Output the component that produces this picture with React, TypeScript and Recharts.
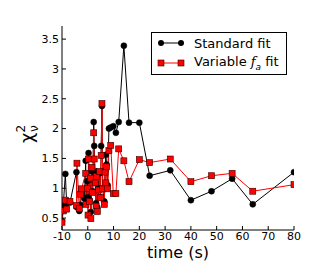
import React from "react";
import { ComposedChart, Line, XAxis, YAxis, Legend } from "recharts";

// reduced chi-square vs time, two fit variants
const stdTime = [
  -10, -9.5, -8.7, -8.2, -6.9, -4.4, -4.2, -3.3, -2.8, -2.4, -1.3, -0.8, -0.7, -0.2, 0.1, 0.3,
  0.7, 1.0, 1.2, 1.6, 1.9, 2.3, 2.5, 2.9, 3.2, 3.4, 3.7, 4.2, 4.6, 4.9, 5.2, 5.5, 5.8, 6.4,
  6.7, 7.0, 7.3, 7.7, 8.2, 8.9, 9.9, 10.9, 12, 14, 16, 20, 24, 32, 40, 48, 56, 64, 80,
];
const stdChi = [
  0.45, 0.72, 1.24, 0.75, 0.76, 1.27, 0.68, 0.62, 0.72, 0.98, 0.83, 1.46, 0.75, 1.12, 0.85, 1.59,
  0.8, 1.15, 0.6, 1.28, 0.95, 2.11, 1.71, 1.1, 0.75, 1.28, 0.68, 1.0, 1.25, 0.85, 1.71, 2.38, 1.0, 0.78,
  1.3, 1.56, 1.4, 1.05, 2.0, 2.02, 2.04, 1.93, 2.11, 3.39, 2.1, 2.1, 1.21, 1.3, 0.8, 0.95, 1.16, 0.73, 1.27,
];

const varTime = [
  -10, -9.5, -8.7, -8.2, -6.9, -4.4, -4.2, -3.3, -2.8, -2.4, -0.8, -0.7, -0.2, 0.1, 0.3, 0.7,
  1.0, 1.2, 1.6, 1.9, 2.3, 2.5, 2.9, 3.2, 3.4, 3.7, 4.2, 4.6, 4.9, 5.2, 5.5, 5.8, 6.4, 6.7,
  7.0, 7.3, 7.7, 8.2, 8.9, 9.9, 10.9, 12, 14, 16, 20, 24, 32, 40, 48, 56, 64, 80,
];
const varChi = [
  0.43, 0.62, 0.8, 0.65, 0.78, 0.71, 1.42, 0.66, 0.9, 0.99, 1.25, 0.73, 1.0, 0.55, 1.49, 0.78,
  1.17, 0.49, 1.35, 0.93, 1.93, 1.49, 1.09, 0.7, 1.2, 0.61, 0.97, 1.28, 0.84, 1.55, 2.42, 0.99, 0.73, 1.27,
  1.09, 1.36, 0.99, 1.63, 1.72, 0.91, 0.91, 1.66, 1.46, 1.11, 1.48, 1.43, 1.49, 1.11, 1.21, 1.25, 0.95, 1.06,
];

const xTicks = [-10, 0, 10, 20, 30, 40, 50, 60, 70, 80];
const yTicks = [0.5, 1, 1.5, 2, 2.5, 3, 3.5];

const stdData = stdTime.map((x, i) => ({ x, y: stdChi[i] }));
const varData = varTime.map((x, i) => ({ x, y: varChi[i] }));

const FONT = "DejaVu Sans, sans-serif";
const TICK = 4;

const BottomTick = ({ x, y, payload }: any) => (
  <g>
    <line x1={x} y1={y} x2={x} y2={y - TICK} stroke="#000" />
    <text x={x} y={y + 10} textAnchor="middle" fontSize={11} fontFamily={FONT} fill="#000">
      {payload.value}
    </text>
  </g>
);
const TopTick = ({ x, y }: any) => <line x1={x} y1={y} x2={x} y2={y + TICK} stroke="#000" />;
const LeftTick = ({ x, y, payload }: any) => (
  <g>
    <line x1={x} y1={y} x2={x + TICK} y2={y} stroke="#000" />
    <text x={x - 3} y={y} dy="0.35em" textAnchor="end" fontSize={11} fontFamily={FONT} fill="#000">
      {payload.value}
    </text>
  </g>
);
const RightTick = ({ x, y }: any) => <line x1={x} y1={y} x2={x - TICK} y2={y} stroke="#000" />;

const SquareDot = ({ cx, cy, index }: any) => (
  <rect key={`sq-${index}`} x={cx - 3} y={cy - 3} width={6} height={6} fill="#ff0000" stroke="#300" strokeWidth={0.6} />
);

const LegendBox = () => (
  <div
    style={{
      border: "1px solid #000",
      background: "#fff",
      width: 134,
      height: 41,
      fontFamily: FONT,
      fontSize: 13,
      color: "#000",
    }}
  >
    <div style={{ display: "flex", alignItems: "center", height: 20 }}>
      <svg width={42} height={20} style={{ flex: "none" }}>
        <line x1={9} y1={10} x2={29} y2={10} stroke="#000" />
        <circle cx={9} cy={10} r={3} fill="#000" />
        <circle cx={29} cy={10} r={3} fill="#000" />
      </svg>
      <span>Standard fit</span>
    </div>
    <div style={{ display: "flex", alignItems: "center", height: 20 }}>
      <svg width={42} height={20} style={{ flex: "none" }}>
        <line x1={9} y1={10} x2={29} y2={10} stroke="#ff0000" />
        <rect x={6} y={7} width={6} height={6} fill="#ff0000" stroke="#300" strokeWidth={0.6} />
        <rect x={26} y={7} width={6} height={6} fill="#ff0000" stroke="#300" strokeWidth={0.6} />
      </svg>
      <span>
        Variable <i style={{ fontFamily: "DejaVu Serif, serif" }}>f</i>
        <sub style={{ fontSize: 9, fontStyle: "italic" }}>a</sub> fit
      </span>
    </div>
  </div>
);

export default function App() {
  return (
    <div style={{ position: "absolute", left: 0, top: 0, width: 327, height: 262, background: "#fff" }}>
      <ComposedChart width={327} height={262} margin={{ top: 26, right: 33, bottom: 0, left: 0 }}>
        <XAxis
          xAxisId="b"
          dataKey="x"
          type="number"
          domain={[-10, 80]}
          ticks={xTicks}
          allowDataOverflow
          height={32}
          tickSize={0}
          tickMargin={0}
          tickLine={false}
          axisLine={{ stroke: "#000" }}
          tick={<BottomTick />}
          label={{
            content: ({ viewBox }: any) => (
              <text
                x={viewBox.x + viewBox.width / 2}
                y={viewBox.y + 28}
                textAnchor="middle"
                fontSize={16}
                fontFamily={FONT}
                fill="#000"
              >
                time (s)
              </text>
            ),
          }}
        />
        <XAxis
          xAxisId="t"
          orientation="top"
          dataKey="x"
          type="number"
          domain={[-10, 80]}
          ticks={xTicks}
          allowDataOverflow
          height={0}
          tickSize={0}
          tickMargin={0}
          tickLine={false}
          axisLine={{ stroke: "#000" }}
          tick={<TopTick />}
        />
        <YAxis
          yAxisId="l"
          type="number"
          domain={[0.3, 3.72]}
          ticks={yTicks}
          allowDataOverflow
          width={62}
          tickSize={0}
          tickMargin={0}
          tickLine={false}
          axisLine={{ stroke: "#000" }}
          tick={<LeftTick />}
          label={{
            content: () => (
              <g transform="translate(33,143) rotate(-90)">
                <text x={0} y={0} fontSize={18} fontFamily={FONT} fill="#000">
                  χ
                  <tspan dy={-8} fontSize={12}>2</tspan>
                  <tspan dx={-7} dy={13} fontSize={12}>ν</tspan>
                </text>
              </g>
            ),
          }}
        />
        <YAxis
          yAxisId="r"
          orientation="right"
          type="number"
          domain={[0.3, 3.72]}
          ticks={yTicks}
          allowDataOverflow
          width={0}
          tickSize={0}
          tickMargin={0}
          tickLine={false}
          axisLine={{ stroke: "#000" }}
          tick={<RightTick />}
        />
        <Line
          xAxisId="b"
          yAxisId="l"
          data={stdData}
          dataKey="y"
          name="Standard fit"
          type="linear"
          stroke="#000"
          strokeWidth={1}
          dot={{ r: 3, fill: "#000", stroke: "#000", strokeWidth: 0.5 }}
          activeDot={false}
          isAnimationActive={false}
        />
        <Line
          xAxisId="b"
          yAxisId="l"
          data={varData}
          dataKey="y"
          name="Variable fa fit"
          type="linear"
          stroke="#ff0000"
          strokeWidth={1}
          dot={<SquareDot />}
          activeDot={false}
          isAnimationActive={false}
        />
        <Legend
          layout="vertical"
          align="center"
          verticalAlign="middle"
          content={<LegendBox />}
          wrapperStyle={{ left: 151, top: 32, width: 136, height: 43 }}
        />
      </ComposedChart>
    </div>
  );
}
